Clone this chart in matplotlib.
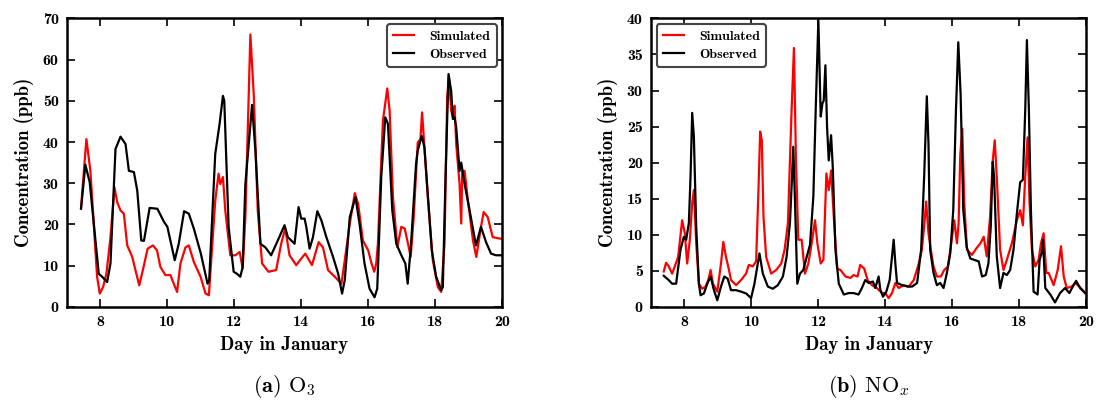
import matplotlib
matplotlib.use('Agg')
import matplotlib.pyplot as plt

# ---- O3 data (day in January, ppb) ----
o3_obs_day = [7.42, 7.55, 7.68, 7.95, 8.05, 8.2, 8.3, 8.45, 8.6, 8.75, 8.85, 9.0, 9.1, 9.22, 9.3,
              9.47, 9.7, 9.9, 10.0, 10.22, 10.34, 10.5, 10.64, 10.79, 11.0, 11.2, 11.25, 11.43,
              11.56, 11.66, 11.7, 11.83, 11.98, 12.08, 12.18, 12.25, 12.33, 12.53, 12.63, 12.78,
              12.93, 13.1, 13.3, 13.5, 13.6, 13.8, 13.92, 14.0, 14.1, 14.15, 14.25, 14.35, 14.48,
              14.6, 14.75, 14.95, 15.1, 15.22, 15.3, 15.45, 15.62, 15.74, 15.89, 16.04, 16.19,
              16.27, 16.39, 16.51, 16.59, 16.72, 16.84, 16.99, 17.11, 17.18, 17.28, 17.43, 17.48,
              17.6, 17.68, 17.78, 17.9, 18.03, 18.18, 18.23, 18.31, 18.4, 18.48, 18.53, 18.58,
              18.63, 18.73, 18.78, 18.88, 19.03, 19.22, 19.37, 19.52, 19.67, 19.82, 19.97]
o3_obs_val = [23.8, 34.5, 30.2, 8.0, 7.3, 6.0, 10.5, 38.3, 41.3, 39.5, 33.0, 32.7, 28.2, 16.1, 16.0,
              24.0, 23.8, 20.6, 19.4, 11.3, 15.3, 23.2, 22.6, 19.0, 12.9, 5.6, 6.5, 37.1,
              44.4, 51.2, 50.0, 19.4, 8.5, 8.0, 7.3, 9.7, 29.8, 49.0, 37.9, 15.3,
              14.4, 12.5, 16.1, 19.8, 16.9, 15.3, 24.2, 21.4, 21.4, 19.4, 14.1, 16.9, 23.2,
              21.0, 16.9, 12.1, 8.1, 3.2, 6.5, 21.8, 26.6, 20.2, 10.5, 4.4, 2.3,
              4.4, 31.5, 46.0, 44.4, 23.4, 15.3, 12.5, 10.5, 5.6, 15.3, 34.7, 37.9,
              41.5, 38.7, 27.4, 13.7, 7.3, 4.0, 4.8, 31.5, 56.5, 52.4, 45.6, 46.0,
              43.5, 33.0, 35.0, 29.8, 23.4, 14.9, 19.4, 15.7, 12.9, 12.5, 12.5]

o3_sim_day = [7.42, 7.58, 7.7, 7.8, 7.9, 7.98, 8.08, 8.18, 8.3, 8.42, 8.5, 8.6, 8.7, 8.8, 8.95,
              9.07, 9.16, 9.29, 9.41, 9.57, 9.69, 9.79, 9.94, 10.09, 10.19, 10.29, 10.39, 10.54,
              10.64, 10.79, 10.99, 11.14, 11.24, 11.43, 11.53, 11.58, 11.66, 11.73, 11.88, 12.03,
              12.16, 12.25, 12.33, 12.48, 12.58, 12.7, 12.83, 13.02, 13.25, 13.4, 13.52, 13.65,
              13.85, 14.0, 14.12, 14.32, 14.52, 14.65, 14.8, 15.0, 15.2, 15.3, 15.45, 15.6, 15.7,
              15.84, 16.0, 16.1, 16.18, 16.24, 16.29, 16.44, 16.57, 16.64, 16.74, 16.87, 16.99,
              17.09, 17.19, 17.27, 17.36, 17.48, 17.56, 17.61, 17.68, 17.78, 17.93, 18.08, 18.18,
              18.28, 18.36, 18.41, 18.48, 18.53, 18.58, 18.63, 18.73, 18.78, 18.81, 18.88, 18.98,
              19.13, 19.23, 19.37, 19.45, 19.57, 19.72, 19.97]
o3_sim_val = [24.0, 40.7, 33.0, 20.2, 7.3, 3.2, 4.8, 8.1, 16.9, 29.0, 25.4, 23.4, 22.6, 14.9, 12.1,
              8.1, 5.2, 9.7, 14.1, 14.9, 13.7, 9.7, 7.7, 7.7, 5.6, 3.6, 10.5, 14.4,
              14.9, 10.9, 7.3, 3.2, 2.8, 25.8, 32.3, 29.8, 31.5, 23.4, 12.5, 12.5,
              13.3, 9.3, 21.8, 66.1, 51.6, 23.4, 10.5, 8.5, 8.9, 15.3, 19.0, 12.5,
              10.1, 11.7, 12.9, 10.1, 15.7, 14.4, 8.9, 7.3, 5.6, 11.3, 20.2, 27.6, 25.0,
              16.1, 13.7, 10.5, 8.5, 10.5, 15.3, 45.2, 53.0, 47.6, 26.6, 14.5, 19.4,
              19.0, 15.3, 12.1, 21.8, 39.9, 40.7, 47.2, 38.7, 26.6, 11.3, 4.8, 3.6,
              15.3, 50.8, 56.0, 47.6, 46.0, 48.8, 39.5, 29.8, 20.2, 33.0, 33.0, 25.8,
              16.1, 12.1, 19.4, 23.0, 21.8, 16.9, 16.5]

# ---- NOx data (day in January, ppb) ----
nox_obs_day = [7.38, 7.53, 7.63, 7.75, 7.88, 7.98, 8.05, 8.13, 8.18, 8.23, 8.28, 8.35, 8.43, 8.48,
               8.58, 8.68, 8.78, 8.88, 8.98, 9.09, 9.19, 9.29, 9.39, 9.54, 9.69, 9.84, 9.99, 10.09,
               10.19, 10.24, 10.34, 10.49, 10.64, 10.79, 10.94, 11.05, 11.15, 11.2, 11.25, 11.3,
               11.37, 11.45, 11.55, 11.65, 11.75, 11.85, 11.92, 12.0, 12.07, 12.12, 12.16, 12.21,
               12.26, 12.31, 12.38, 12.43, 12.51, 12.61, 12.76, 12.91, 13.05, 13.2, 13.3, 13.4,
               13.5, 13.63, 13.7, 13.8, 13.85, 13.93, 14.03, 14.13, 14.2, 14.25, 14.3, 14.35,
               14.5, 14.67, 14.8, 14.95, 15.07, 15.16, 15.24, 15.29, 15.34, 15.44, 15.54, 15.64,
               15.74, 15.84, 15.94, 16.03, 16.11, 16.18, 16.25, 16.33, 16.43, 16.54, 16.66, 16.79,
               16.89, 17.0, 17.08, 17.15, 17.21, 17.25, 17.33, 17.43, 17.53, 17.63, 17.73, 17.83,
               17.93, 18.03, 18.11, 18.18, 18.23, 18.29, 18.35, 18.43, 18.55, 18.61, 18.68, 18.71,
               18.78, 18.93, 19.07, 19.22, 19.37, 19.5, 19.6, 19.7, 19.82, 19.97]
nox_obs_val = [4.3, 3.7, 3.2, 3.2, 7.9, 9.7, 9.3, 11.6, 18.0, 26.9, 23.6, 11.1, 3.2, 1.6,
               1.85, 3.2, 4.2, 2.3, 0.9, 2.8, 4.2, 3.9, 2.3, 2.3, 2.1, 1.85, 1.2, 3.2,
               6.0, 7.4, 4.6, 2.8, 2.5, 3.0, 4.2, 6.9, 11.6, 16.7, 22.2, 14.8,
               3.2, 4.6, 5.1, 6.9, 8.6, 15.3, 27.3, 39.8, 26.4, 28.2, 28.6, 33.5,
               24.9, 20.3, 23.8, 19.4, 7.9, 3.2, 1.7, 1.9, 1.9, 1.7, 2.6, 3.7,
               3.3, 3.5, 2.6, 4.2, 2.4, 1.4, 2.1, 3.7, 7.0, 9.3, 6.0, 3.3,
               3.0, 2.8, 2.8, 3.3, 7.9, 18.0, 29.2, 22.6, 7.9, 4.7, 3.0, 3.3,
               2.6, 4.7, 7.4, 13.4, 27.2, 36.7, 29.5, 13.4, 8.3, 6.7, 6.5, 6.3,
               4.2, 4.4, 6.0, 11.1, 20.1, 18.0, 7.0, 2.6, 4.7, 4.4, 5.1, 7.9,
               12.9, 17.3, 17.6, 27.2, 37.0, 27.2, 13.4, 2.1, 1.7, 6.5, 7.6, 9.3,
               2.6, 1.7, 0.6, 1.9, 2.6, 1.9, 2.8, 3.6, 2.6, 1.9]

nox_sim_day = [7.38, 7.45, 7.53, 7.63, 7.71, 7.81, 7.93, 8.01, 8.08, 8.16, 8.23, 8.28, 8.35, 8.43,
               8.53, 8.63, 8.71, 8.78, 8.85, 8.98, 9.09, 9.16, 9.24, 9.32, 9.39, 9.54, 9.69, 9.84,
               9.92, 10.04, 10.14, 10.21, 10.26, 10.31, 10.36, 10.44, 10.59, 10.74, 10.89, 10.99,
               11.09, 11.2, 11.27, 11.33, 11.4, 11.5, 11.6, 11.7, 11.8, 11.9, 11.97, 12.07, 12.15,
               12.24, 12.31, 12.38, 12.46, 12.56, 12.66, 12.81, 12.96, 13.05, 13.17, 13.25, 13.37,
               13.47, 13.6, 13.75, 13.9, 14.0, 14.1, 14.2, 14.3, 14.4, 14.55, 14.7, 14.85, 15.0,
               15.09, 15.16, 15.22, 15.29, 15.36, 15.44, 15.54, 15.66, 15.76, 15.87, 15.97, 16.06,
               16.14, 16.19, 16.24, 16.3, 16.36, 16.44, 16.59, 16.72, 16.84, 16.94, 17.03, 17.13,
               17.21, 17.27, 17.33, 17.43, 17.53, 17.63, 17.78, 17.93, 18.03, 18.11, 18.18, 18.25,
               18.31, 18.38, 18.48, 18.58, 18.65, 18.73, 18.81, 18.88, 19.03, 19.15, 19.25, 19.33,
               19.42, 19.57, 19.67, 19.8, 19.97]
nox_sim_val = [4.9, 6.1, 5.6, 4.6, 5.6, 6.9, 12.0, 10.2, 6.0, 9.3, 14.4, 16.2, 8.8, 3.2,
               2.5, 2.8, 3.7, 5.1, 3.2, 2.1, 6.0, 9.0, 6.9, 5.3, 3.7, 3.0, 3.7, 4.6,
               5.8, 5.6, 6.3, 16.2, 24.3, 23.1, 12.5, 6.9, 4.6, 5.1, 6.0, 7.9,
               11.6, 27.3, 35.9, 20.4, 9.3, 9.3, 4.6, 6.0, 8.8, 12.0, 8.8, 6.0, 6.5,
               18.5, 16.2, 18.9, 12.5, 5.3, 5.1, 4.2, 4.0, 4.4, 4.2, 5.8, 5.3,
               3.7, 3.0, 2.6, 1.9, 1.9, 1.2, 1.9, 3.3, 2.6, 3.0, 2.8, 3.7, 6.0,
               7.9, 11.1, 14.6, 10.2, 7.9, 5.6, 4.2, 4.2, 5.1, 5.6, 8.8, 12.0,
               8.8, 11.6, 21.2, 24.7, 14.3, 7.9, 7.2, 8.1, 8.8, 9.7, 7.0, 12.5,
               20.3, 23.1, 18.0, 7.9, 5.1, 6.5, 8.8, 12.0, 13.4, 11.3, 18.0, 23.5,
               14.3, 7.9, 5.6, 6.5, 8.8, 10.2, 4.7, 4.7, 3.0, 5.1, 8.4, 4.2,
               2.6, 2.8, 3.3, 2.8, 1.9]

xticks = [8, 10, 12, 14, 16, 18, 20]

plt.rcParams['mathtext.fontset'] = 'cm'
tickfont = 'cmb10'

fig = plt.figure(figsize=(10.96, 4.01), dpi=100)
ax1 = fig.add_axes([0.0611, 0.235, 0.397, 0.719])
ax2 = fig.add_axes([0.594, 0.235, 0.397, 0.719])

panels = [
    (ax1, o3_sim_day, o3_sim_val, o3_obs_day, o3_obs_val, (0, 70), range(0, 71, 10),
     'upper right', r'$\mathbf{(a)}$ O$_3$'),
    (ax2, nox_sim_day, nox_sim_val, nox_obs_day, nox_obs_val, (0, 40), range(0, 41, 5),
     'upper left', r'$\mathbf{(b)}$ NO$_x$'),
]

for ax, sd, sv, od, ov, ylim, yt, legloc, cap in panels:
    ax.plot(sd, sv, color='red', lw=1.6, label='Simulated')
    ax.plot(od, ov, color='black', lw=1.6, label='Observed')
    ax.set_xlim(7, 20)
    ax.set_ylim(*ylim)
    ax.set_xticks(xticks)
    ax.set_yticks(list(yt))
    ax.tick_params(direction='in', top=True, right=True, length=6, width=1.2, pad=6,
                   labelsize=11.5)
    for lab in ax.get_xticklabels() + ax.get_yticklabels():
        lab.set_fontfamily(tickfont)
    for sp in ax.spines.values():
        sp.set_linewidth(1.8)
    ax.set_xlabel('Day in January', fontfamily=tickfont, fontsize=13.5, labelpad=5)
    ax.set_ylabel('Concentration (ppb)', fontfamily=tickfont, fontsize=13.5, labelpad=6)
    leg = ax.legend(loc=legloc, prop={'family': tickfont, 'size': 10}, handlelength=1.5,
                    handletextpad=1.1, fancybox=True, framealpha=1, borderpad=0.45,
                    labelspacing=0.35, borderaxespad=0.4)
    leg.get_frame().set_edgecolor('#444444')
    leg.get_frame().set_linewidth(1.5)
    ax.text(0.5, -0.275, cap, transform=ax.transAxes, ha='center', va='center',
            fontsize=16, fontfamily='cmr10')

fig.savefig('out.png', dpi=100)
